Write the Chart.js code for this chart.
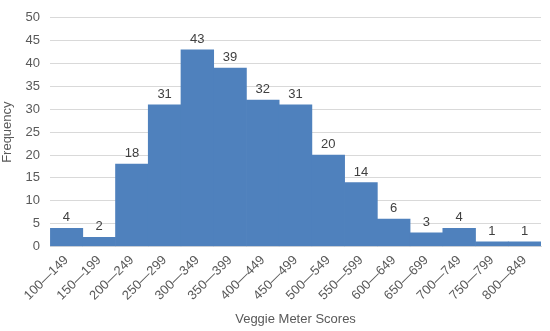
<!DOCTYPE html>
<html><head><meta charset="utf-8">
<script src="https://cdn.jsdelivr.net/npm/chart.js@4"></script>
<style>html,body{margin:0;padding:0;background:#fff}#w{width:550px;height:331px}</style>
</head><body><div id="w"><canvas id="c"></canvas></div>
<script>
const categories = ["100\u2014149","150\u2014199","200\u2014249","250\u2014299","300\u2014349","350\u2014399","400\u2014449","450\u2014499","500\u2014549","550\u2014599","600\u2014649","650\u2014699","700\u2014749","750\u2014799","800\u2014849"];
const frequency = [4,2,18,31,43,39,32,31,20,14,6,3,4,1,1];
const yTicks = [0,5,10,15,20,25,30,35,40,45,50];

const labelPlugin = {
  id: 'barLabels',
  afterDatasetsDraw(chart) {
    const ctx = chart.ctx;
    const meta = chart.getDatasetMeta(0);
    ctx.save();
    ctx.font = '13px "Liberation Sans", Arial, sans-serif';
    ctx.fillStyle = '#404040';
    ctx.textAlign = 'center';
    ctx.textBaseline = 'bottom';
    meta.data.forEach((el, i) => {
      ctx.fillText(String(frequency[i]), el.x, el.y - 4);
    });
    ctx.restore();
  }
};

new Chart(document.getElementById('c'), {
  type: 'bar',
  data: { labels: categories, datasets: [{ data: frequency, backgroundColor: '#4f81bd', borderWidth: 0, barPercentage: 1.0, categoryPercentage: 1.0 }] },
  options: {
    responsive: true, maintainAspectRatio: false, animation: false,
    layout: { padding: { top: 0, right: 9, left: 0, bottom: 4 } },
    plugins: { legend: { display: false }, tooltip: { enabled: false } },
    scales: {
      x: {
        grid: { display: false, drawTicks: false },
        border: { display: true, color: '#d9d9d9' },
        ticks: { color: '#595959', font: { size: 13, family: '"Liberation Sans", Arial, sans-serif' }, minRotation: 45, maxRotation: 45, padding: 6 },
        title: { display: true, text: 'Veggie Meter Scores', color: '#595959', font: { size: 13, family: '"Liberation Sans", Arial, sans-serif' }, padding: { top: 2, bottom: 0 } }
      },
      y: {
        min: 0, max: 50,
        afterBuildTicks(axis) { axis.ticks = yTicks.map(v => ({ value: v })); },
        grid: { color: '#d9d9d9', drawTicks: false },
        border: { display: false },
        ticks: { color: '#595959', font: { size: 13, family: '"Liberation Sans", Arial, sans-serif' }, padding: 10 },
        title: { display: true, text: 'Frequency', color: '#595959', font: { size: 13, family: '"Liberation Sans", Arial, sans-serif' }, padding: { top: 0, bottom: 0 } }
      }
    }
  },
  plugins: [labelPlugin]
});
</script></body></html>
